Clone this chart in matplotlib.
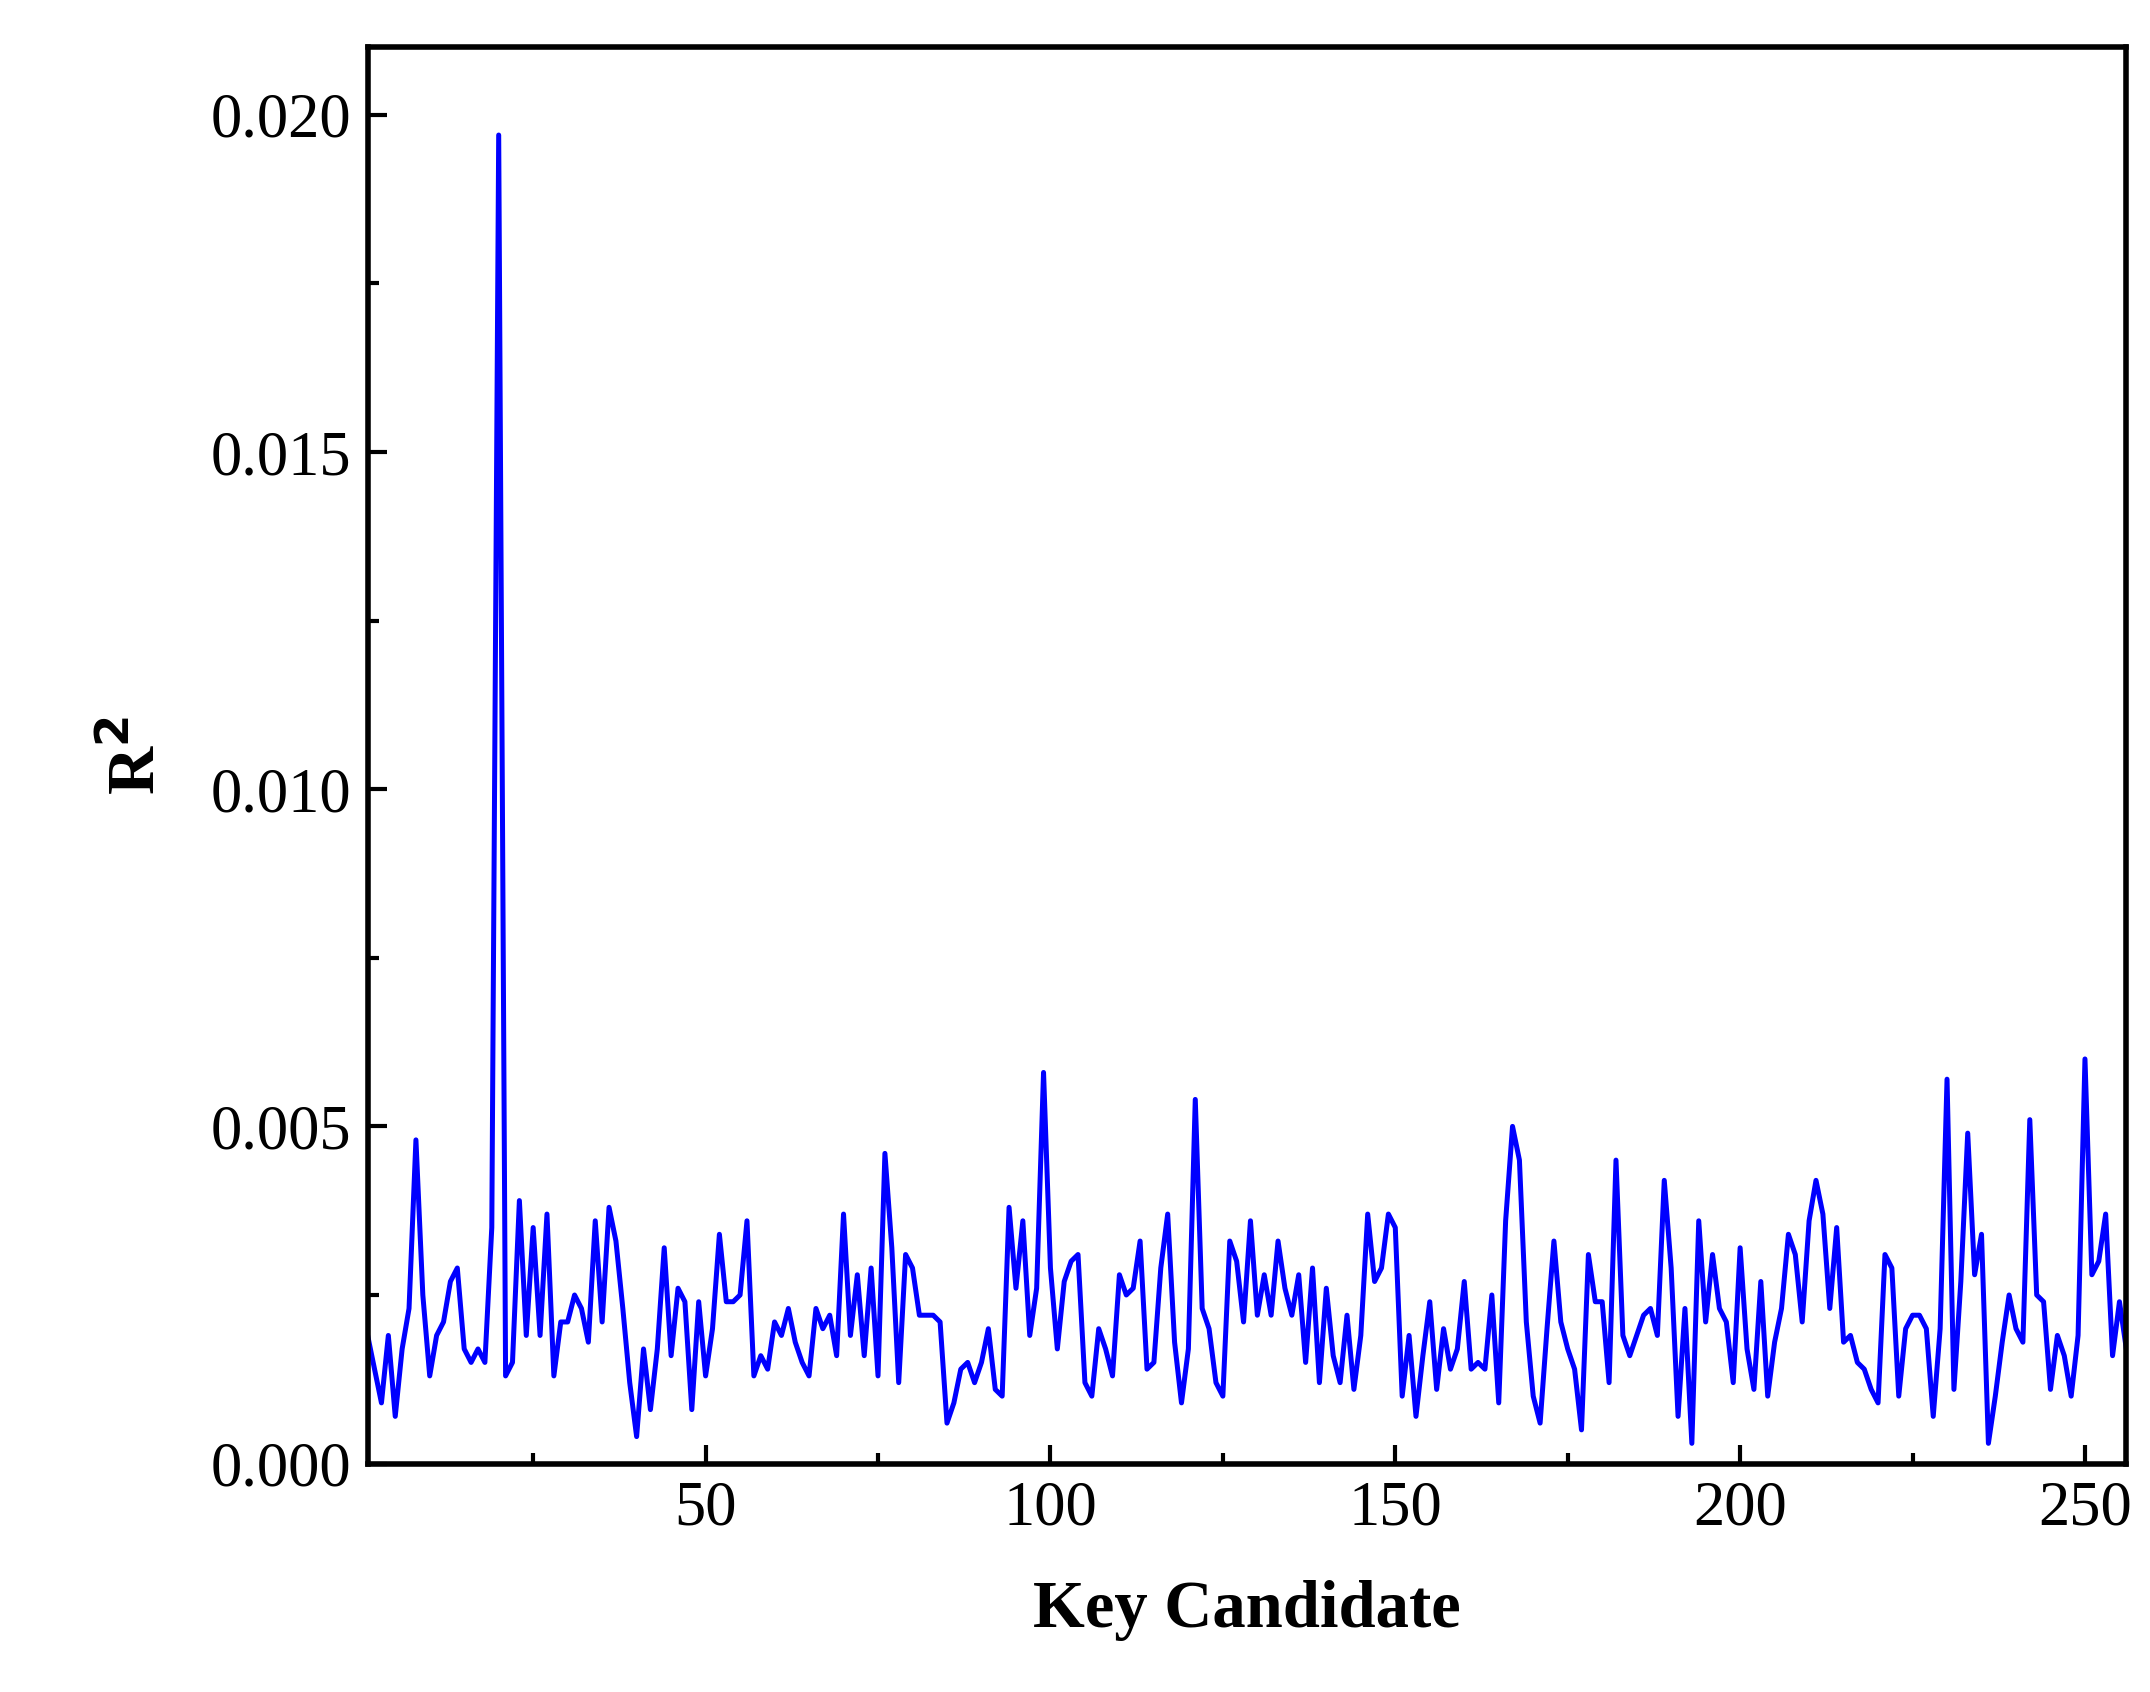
import matplotlib
matplotlib.use("Agg")
import matplotlib.pyplot as plt
import numpy as np
from matplotlib.ticker import MultipleLocator

r2_milli = [
1.9,1.4,0.9,1.9,0.7,1.7,2.3,4.8,2.5,1.3,1.9,2.1,2.7,2.9,1.7,1.5,1.7,1.5,3.5,19.7,
1.3,1.5,3.9,1.9,3.5,1.9,3.7,1.3,2.1,2.1,2.5,2.3,1.8,3.6,2.1,3.8,3.3,2.3,1.2,0.4,
1.7,0.8,1.7,3.2,1.6,2.6,2.4,0.8,2.4,1.3,2.0,3.4,2.4,2.4,2.5,3.6,1.3,1.6,1.4,2.1,
1.9,2.3,1.8,1.5,1.3,2.3,2.0,2.2,1.6,3.7,1.9,2.8,1.6,2.9,1.3,4.6,3.2,1.2,3.1,2.9,
2.2,2.2,2.2,2.1,0.6,0.9,1.4,1.5,1.2,1.5,2.0,1.1,1.0,3.8,2.6,3.6,1.9,2.6,5.8,2.9,
1.7,2.7,3.0,3.1,1.2,1.0,2.0,1.7,1.3,2.8,2.5,2.6,3.3,1.4,1.5,2.9,3.7,1.8,0.9,1.7,
5.4,2.3,2.0,1.2,1.0,3.3,3.0,2.1,3.6,2.2,2.8,2.2,3.3,2.6,2.2,2.8,1.5,2.9,1.2,2.6,
1.6,1.2,2.2,1.1,1.9,3.7,2.7,2.9,3.7,3.5,1.0,1.9,0.7,1.6,2.4,1.1,2.0,1.4,1.7,2.7,
1.4,1.5,1.4,2.5,0.9,3.6,5.0,4.5,2.1,1.0,0.6,2.0,3.3,2.1,1.7,1.4,0.5,3.1,2.4,2.4,
1.2,4.5,1.9,1.6,1.9,2.2,2.3,1.9,4.2,2.9,0.7,2.3,0.3,3.6,2.1,3.1,2.3,2.1,1.2,3.2,
1.7,1.1,2.7,1.0,1.8,2.3,3.4,3.1,2.1,3.6,4.2,3.7,2.3,3.5,1.8,1.9,1.5,1.4,1.1,0.9,
3.1,2.9,1.0,2.0,2.2,2.2,2.0,0.7,2.0,5.7,1.1,2.7,4.9,2.8,3.4,0.3,1.0,1.8,2.5,2.0,
1.8,5.1,2.5,2.4,1.1,1.9,1.6,1.0,1.9,6.0,2.8,3.0,3.7,1.6,2.4,1.7]
r2 = np.array(r2_milli) / 1000.0
key_candidate = np.arange(1, len(r2) + 1)

plt.rcParams['font.family'] = ['Liberation Serif', 'DejaVu Serif']
fig = plt.figure(figsize=(21.5, 16.92), dpi=100)
ax = fig.add_axes([0.171, 0.135, 0.818, 0.837])
ax.plot(key_candidate, r2, color='#0000ff', lw=3.6)
ax.set_xlim(1, 256)
ax.set_ylim(0, 0.021)
ax.xaxis.set_major_locator(MultipleLocator(50))
ax.xaxis.set_minor_locator(MultipleLocator(25))
ax.yaxis.set_major_locator(MultipleLocator(0.005))
ax.yaxis.set_minor_locator(MultipleLocator(0.0025))
ax.yaxis.set_major_formatter(matplotlib.ticker.FormatStrFormatter('%.3f'))
ax.tick_params(which='both', direction='in', width=3, labelsize=45, top=False, right=False)
ax.tick_params(which='major', length=14, pad=12)
ax.tick_params(which='minor', length=8)
for s in ax.spines.values():
    s.set_linewidth(4)
ax.set_xlabel('Key Candidate', fontsize=48, fontweight='bold', labelpad=30)
ax.set_ylabel('R$^\\mathbf{2}$', fontsize=48, fontweight='bold', labelpad=30)
fig.savefig('out.png', dpi=100)
